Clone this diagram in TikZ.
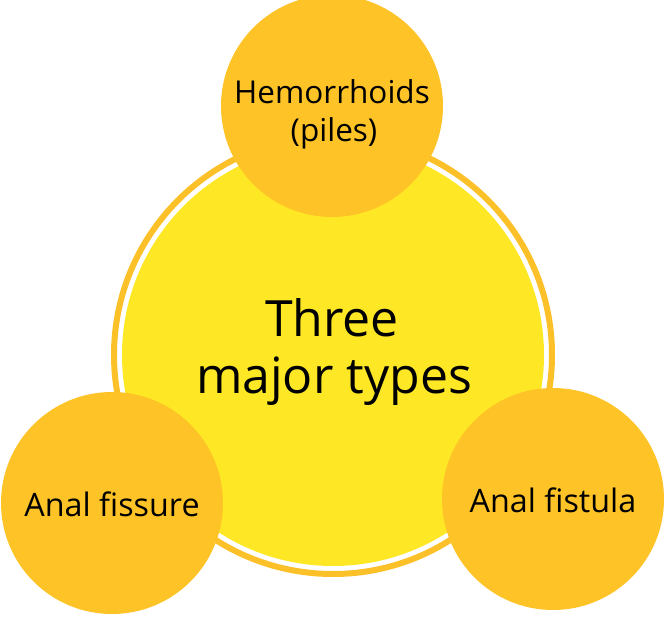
\documentclass[tikz,border=0pt]{standalone}
\usepackage{fontspec}
\setmainfont{Open Sans}
\definecolor{ringorange}{RGB}{252,192,40}
\definecolor{bigyellow}{RGB}{254,232,37}
\definecolor{smallorange}{RGB}{254,195,38}
\begin{document}
\begin{tikzpicture}[x=1pt,y=-1pt,
  small/.style={circle,fill=smallorange,minimum size=222pt,inner sep=0pt},
  big/.style={circle,fill=bigyellow,minimum size=422pt,inner sep=0pt},
  smalltext/.style={anchor=base,inner sep=0pt,font=\fontsize{31.5}{36}\selectfont},
  bottomtext/.style={anchor=base,inner sep=0pt,font=\fontsize{32.3}{36}\selectfont},
  bigtext/.style={anchor=base,inner sep=0pt,font=\fontsize{50}{55}\selectfont}]
\useasboundingbox (0,0) rectangle (666,617);
\node[circle,draw=ringorange,line width=6pt,minimum size=438pt,inner sep=0pt] (ring) at (333,355) {};
\node[big] (center) at (333,355) {};
\node[bigtext] (centerA) at (332,336) {Three};
\node[bigtext] (centerB) at (334,393) {major types};
\node[small] (top) at (332,106) {};
\node[smalltext] (topA) at (332,104) {Hemorrhoids};
\node[smalltext] (topB) at (334,142) {(piles)};
\node[small] (left) at (112,503) {};
\node[bottomtext] (leftA) at (112,516) {Anal fissure};
\node[small] (right) at (553,499) {};
\node[bottomtext] (rightA) at (553,512) {Anal fistula};
\end{tikzpicture}
\end{document}
